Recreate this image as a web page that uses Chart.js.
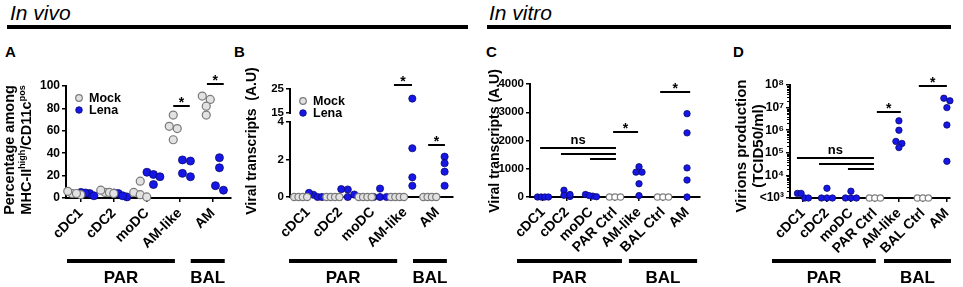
<!DOCTYPE html>
<html>
<head>
<meta charset="utf-8">
<script src="https://cdn.jsdelivr.net/npm/chart.js@4.4.1/dist/chart.umd.min.js"></script>
<style>
  html, body { margin: 0; padding: 0; background: #fff; }
  body { position: relative; width: 963px; height: 287px; overflow: hidden; font-family: "Liberation Sans", Arial, sans-serif; color: #000; }
  canvas { position: absolute; }
  .head { position: absolute; font-style: italic; font-size: 21px; line-height: 24px; }
  .rule { position: absolute; height: 4px; background: #000; }
  .letter { position: absolute; font-weight: bold; font-size: 15px; line-height: 15px; }
</style>
</head>
<body>
<div class="head" style="left:10px;top:1px">In vivo</div>
<div class="rule" style="left:7px;top:25px;width:461px"></div>
<div class="head" style="left:489px;top:1px">In vitro</div>
<div class="rule" style="left:487px;top:25px;width:464px"></div>
<div class="letter" style="left:5px;top:44px">A</div>
<div class="letter" style="left:234px;top:44px">B</div>
<div class="letter" style="left:486px;top:44px">C</div>
<div class="letter" style="left:733px;top:44px">D</div>

<canvas id="panelA" width="238" height="227" style="left:0;top:60px"></canvas>
<canvas id="panelB" width="228" height="227" style="left:232px;top:60px"></canvas>
<canvas id="panelC" width="228" height="227" style="left:480px;top:60px"></canvas>
<canvas id="panelD" width="241" height="227" style="left:722px;top:60px"></canvas>

<script>
// ---- data ----
const catsAB = ['cDC1', 'cDC2', 'moDC', 'AM-like', 'AM'];
const catsCD = ['cDC1', 'cDC2', 'moDC', 'PAR Ctrl', 'AM-like', 'BAL Ctrl', 'AM'];

// A: % among MHC-II high / CD11c pos, one list per cell type
const mockA = [[4, 3, 6, 4], [5, 5, 7, 4], [15, 5, 3, 1], [74, 64, 62, 52], [88, 91, 82, 74]];
const lenaA = [[4, 2, 5, 4.5], [4, 1, 2, 4.5], [23, 12, 21, 19], [34, 33, 19, 22], [36, 27, 7, 11]];
const ticksA = [0, 20, 40, 60, 80, 100];

// B: viral transcripts in vivo (A.U), axis broken between 4 and 15
const mockB = [[0, 0, 0, 0], [0, 0, 0, 0], [0, 0, 0, 0], [0, 0, 0, 0], [0, 0, 0, 0]];
const lenaB = [[0.12, 0, 0, 0.22], [0.4, 0, 0.13, 0.42], [0, 0, 0, 0.45], [21, 2.6, 1.05, 0.6], [2.15, 1.8, 1.35, 0.6]];
const ticksBLow = [0, 2, 4];
const ticksBHigh = [15, 25];

// C: viral transcripts in vitro (A.U)
const transcriptsC = [[0, 0, 0, 0], [240, 20, 60, 90], [90, 30, 10, 50], [0, 0, 0], [1070, 880, 880, 470, 50], [0, 0, 0], [2950, 2270, 1030, 600, 0]];
const ticksC = [0, 1000, 2000, 3000, 4000];

// D: virions production (TCID50/ml), bottom of axis is the detection limit
const virionsD = [[1600, 1000, 1000, 1600], [2700, 1000, 1000, 1000], [2000, 1000, 1000, 1000], [1000, 1000, 1000],
  [2.6e6, 1e6, 3.2e5, 2.6e5, 1.7e5], [1000, 1000, 1000], [2.6e7, 2e7, 1e7, 1.7e6, 4.2e4]];
const ticksD = [1e3, 1e4, 1e5, 1e6, 1e7, 1e8];

// significance marks (category units, value on axis)
const sigA = [{from: 2.8, to: 3.3, y: 82, text: '*'}, {from: 3.82, to: 4.33, y: 101.8, text: '*'}];
const sigB = [{from: 2.66, to: 3.22, y: 26.5, text: '*', axis: 'yHi'}, {from: 3.72, to: 4.24, y: 2.8, text: '*'}];
const sigC = [{from: -0.12, to: 3.04, y: 1727, text: 'ns'}, {from: 0.75, to: 3.04, y: 1525}, {from: 1.96, to: 3.04, y: 1348},
  {from: 2.92, to: 3.96, y: 2316, text: '*'}, {from: 4.88, to: 6.13, y: 3700, text: '*'}];
const sigD = [{from: -0.25, to: 2.96, y: 5.6e4, text: 'ns'}, {from: 0.67, to: 2.96, y: 3.2e4}, {from: 1.875, to: 2.96, y: 2e4},
  {from: 3.08, to: 4.08, y: 6.2e6, text: '*'}, {from: 4.83, to: 6.0, y: 8.9e7, text: '*'}];

// ---- drawing ----
const FONT = '"Liberation Sans", Arial, sans-serif';
const SUP = ['⁰', '¹', '²', '³', '⁴', '⁵', '⁶', '⁷', '⁸', '⁹'];
Chart.defaults.font.family = FONT;
Chart.defaults.font.weight = 'bold';
Chart.defaults.color = '#000';

const mockStyle = {pointBackgroundColor: '#e2e2e2', pointBorderColor: '#7a7a7a', pointBorderWidth: 1.2};
const lenaStyle = {pointBackgroundColor: '#1616e6', pointBorderColor: '#0a0a70', pointBorderWidth: 0.8};
const ctrlStyle = {pointBackgroundColor: '#ffffff', pointBorderColor: '#808080', pointBorderWidth: 1.2};

function columnPoints(groups, shift, keep) {
  const pts = [];
  groups.forEach((vals, i) => {
    vals.forEach(v => { if (!keep || keep(v, i)) pts.push({x: i + shift, y: v}); });
  });
  return pts;
}

function dataset(label, data, style, r, axis) {
  return Object.assign({label, data, pointRadius: r, pointHoverRadius: r, showLine: false, clip: false, yAxisID: axis || 'y'}, style);
}

// spreads points of one column sideways when they sit at about the same height
const swarm = {
  id: 'swarm',
  afterDatasetsUpdate(chart, args, o) {
    chart.data.datasets.forEach((ds, di) => {
      const meta = chart.getDatasetMeta(di);
      const cols = {};
      ds.data.forEach((d, i) => { (cols[d.x] = cols[d.x] || []).push(meta.data[i]); });
      Object.values(cols).forEach(pts => {
        pts.sort((a, b) => a.y - b.y);
        let row = [];
        const flush = () => {
          const step = row.length > 1 ? Math.min(o.gap, o.width / (row.length - 1)) : 0;
          row.forEach((p, k) => { p.x += (k - (row.length - 1) / 2) * step; });
          row = [];
        };
        pts.forEach(p => {
          if (row.length && p.y - row[0].y > o.near) flush();
          row.push(p);
        });
        flush();
      });
    });
  }
};

function drawRotated(ctx, cx, cy, segs, size) {
  ctx.save();
  ctx.translate(cx, cy);
  ctx.rotate(-Math.PI / 2);
  const big = `bold ${size}px ${FONT}`;
  const small = `bold ${Math.round(size * 0.65)}px ${FONT}`;
  let total = 0;
  segs.forEach(s => { ctx.font = s.sup ? small : big; total += ctx.measureText(s.t).width; });
  let x = -total / 2;
  ctx.textAlign = 'left';
  ctx.textBaseline = 'middle';
  ctx.fillStyle = '#000';
  segs.forEach(s => {
    ctx.font = s.sup ? small : big;
    ctx.fillText(s.t, x, s.sup ? -size * 0.33 : 0);
    x += ctx.measureText(s.t).width;
  });
  ctx.restore();
}

const decor = {
  id: 'decor',
  afterDraw(chart, args, o) {
    const ctx = chart.ctx;
    const area = chart.chartArea;
    const xs = chart.scales.x;
    ctx.save();
    ctx.fillStyle = '#000';
    ctx.strokeStyle = '#000';

    (o.titles || []).forEach(t => drawRotated(ctx, t.x, o.titleY, t.segs, o.titleSize));

    if (o.breakAxis) {
      const ys = chart.scales.yHi;
      ctx.lineWidth = 2;
      ctx.beginPath();
      ctx.moveTo(area.left, ys.getPixelForValue(ticksBHigh[0]) + 1);
      ctx.lineTo(area.left, ys.getPixelForValue(ticksBHigh[1]) - 1);
      ctx.stroke();
    }

    if (o.minorLog) {
      const ys = chart.scales.y;
      ctx.lineWidth = 1;
      for (let e = 3; e < 8; e++) {
        for (let k = 2; k < 10; k++) {
          const py = Math.round(ys.getPixelForValue(k * Math.pow(10, e))) + 0.5;
          ctx.beginPath();
          ctx.moveTo(area.left - 3, py);
          ctx.lineTo(area.left, py);
          ctx.stroke();
        }
      }
    }

    if (o.legend) {
      o.legend.forEach((label, i) => {
        const ds = chart.data.datasets.find(d => d.label === label);
        const cx = area.left + 13, cy = area.top + 12 + i * 12;
        ctx.beginPath();
        ctx.arc(cx, cy, 3.3, 0, Math.PI * 2);
        ctx.fillStyle = ds.pointBackgroundColor;
        ctx.fill();
        ctx.lineWidth = ds.pointBorderWidth;
        ctx.strokeStyle = ds.pointBorderColor;
        ctx.stroke();
        ctx.fillStyle = '#000';
        ctx.font = `bold 12.5px ${FONT}`;
        ctx.textAlign = 'left';
        ctx.textBaseline = 'middle';
        ctx.fillText(label, cx + 10, cy + 0.5);
      });
    }

    ctx.strokeStyle = '#000';
    ctx.fillStyle = '#000';
    (o.sig || []).forEach(s => {
      const ys = chart.scales[s.axis || 'y'];
      const y = Math.round(ys.getPixelForValue(s.y));
      const x1 = xs.getPixelForValue(s.from), x2 = xs.getPixelForValue(s.to);
      ctx.lineWidth = 2;
      ctx.beginPath();
      ctx.moveTo(x1, y);
      ctx.lineTo(x2, y);
      ctx.stroke();
      if (s.text) {
        ctx.textAlign = 'center';
        ctx.textBaseline = 'alphabetic';
        if (s.text === '*') {
          ctx.font = `bold 14px ${FONT}`;
          ctx.fillText('*', (x1 + x2) / 2, y + 1);
        } else {
          ctx.font = `bold 13px ${FONT}`;
          ctx.fillText(s.text, (x1 + x2) / 2, y - 4);
        }
      }
    });

    (o.groups || []).forEach(g => {
      const x1 = xs.getPixelForValue(g.from), x2 = xs.getPixelForValue(g.to);
      ctx.fillRect(x1, o.barY - 2, x2 - x1, 4);
      ctx.font = `bold 17px ${FONT}`;
      ctx.textAlign = 'center';
      ctx.textBaseline = 'middle';
      ctx.fillText(g.label, (x1 + x2) / 2, o.barY + 17);
    });
    ctx.restore();
  }
};

function catAxis(cats, min, max, height) {
  return {
    type: 'linear', position: 'bottom', min, max,
    afterBuildTicks: s => { s.ticks = cats.map((c, i) => ({value: i})); },
    afterFit: s => { s.height = height; },
    ticks: {autoSkip: false, minRotation: 45, maxRotation: 45, padding: 3, font: {size: 14, weight: 'bold'},
      callback: v => cats[v]},
    grid: {drawOnChartArea: false, drawTicks: true, tickLength: 4, color: '#000', lineWidth: 1.5},
    border: {display: true, color: '#000', width: 2}
  };
}

function valAxis(width, list, size, extra) {
  return Object.assign({
    type: 'linear', position: 'left',
    afterBuildTicks: s => { s.ticks = list.map(v => ({value: v})); },
    afterFit: s => { s.width = width; },
    ticks: {autoSkip: false, padding: 2, font: {size, weight: 'bold'}, callback: v => String(v)},
    grid: {drawOnChartArea: false, drawTicks: true, tickLength: 4, color: '#000', lineWidth: 1.5},
    border: {display: true, color: '#000', width: 2}
  }, extra);
}

function makeChart(id, cfg) {
  return new Chart(document.getElementById(id), {
    type: 'scatter',
    data: {datasets: cfg.datasets},
    options: {
      responsive: false,
      animation: false,
      events: [],
      layout: {padding: {top: cfg.padTop, right: cfg.padRight, left: 0, bottom: 0}},
      plugins: {legend: {display: false}, tooltip: {enabled: false}, swarm: cfg.swarm, decor: cfg.decor},
      scales: cfg.scales
    },
    plugins: [swarm, decor]
  });
}

const isCtrl = i => catsCD[i].includes('Ctrl');

// A
makeChart('panelA', {
  datasets: [
    dataset('Mock', columnPoints(mockA, -0.2), mockStyle, 4),
    dataset('Lena', columnPoints(lenaA, 0.2), lenaStyle, 4)
  ],
  padTop: 26, padRight: 7,
  swarm: {gap: 8, width: 13, near: 6},
  scales: {
    x: catAxis(catsAB, -0.45, 4.55, 89),
    y: valAxis(66, ticksA, 12, {min: 0, max: 100})
  },
  decor: {
    titles: [
      {x: 10, segs: [{t: 'Percentage among'}]},
      {x: 27, segs: [{t: 'MHC-II'}, {t: 'high', sup: true}, {t: '/CD11c'}, {t: 'pos', sup: true}]}
    ],
    titleY: 90, titleSize: 14.5,
    legend: ['Mock', 'Lena'],
    sig: sigA,
    groups: [{label: 'PAR', from: -0.42, to: 2.85}, {label: 'BAL', from: 3.33, to: 4.36}],
    barY: 201
  }
});

// B
makeChart('panelB', {
  datasets: [
    dataset('Mock', columnPoints(mockB, -0.23), mockStyle, 3.6),
    dataset('Lena', columnPoints(lenaB, 0.23, v => v <= 4), lenaStyle, 3.6),
    dataset('Lena high', columnPoints(lenaB, 0.23, v => v > 4), lenaStyle, 3.6, 'yHi')
  ],
  padTop: 29, padRight: 7,
  swarm: {gap: 7, width: 13, near: 6},
  scales: {
    x: catAxis(catsAB, -0.56, 4.49, 90),
    y: valAxis(58, ticksBLow, 11.5, {min: 0, max: 4, stack: 'b', stackWeight: 75}),
    yHi: valAxis(58, ticksBHigh, 11.5, {min: 11.25, max: 25, stack: 'b', stackWeight: 33, border: {display: false}})
  },
  decor: {
    titles: [{x: 20, segs: [{t: 'Viral transcripts  (A.U)'}]}],
    titleY: 81, titleSize: 14,
    legend: ['Mock', 'Lena'],
    breakAxis: true,
    sig: sigB,
    groups: [{label: 'PAR', from: -0.59, to: 2.76}, {label: 'BAL', from: 3.25, to: 4.3}],
    barY: 201
  }
});

// C
makeChart('panelC', {
  datasets: [
    dataset('Infected', columnPoints(transcriptsC, 0, (v, i) => !isCtrl(i)), lenaStyle, 3.2),
    dataset('Control', columnPoints(transcriptsC, 0, (v, i) => isCtrl(i)), ctrlStyle, 3.2)
  ],
  padTop: 24, padRight: 8,
  swarm: {gap: 6, width: 11, near: 5},
  scales: {
    x: catAxis(catsCD, -0.54, 6.54, 90),
    y: valAxis(50, ticksC, 11.5, {min: 0, max: 4000})
  },
  decor: {
    titles: [{x: 15, segs: [{t: 'Viral transcripts (A.U)'}]}],
    titleY: 81, titleSize: 14,
    sig: sigC,
    groups: [{label: 'PAR', from: -1.08, to: 3.29}, {label: 'BAL', from: 3.58, to: 6.42}],
    barY: 201
  }
});

// D
makeChart('panelD', {
  datasets: [
    dataset('Infected', columnPoints(virionsD, 0, (v, i) => !isCtrl(i)), lenaStyle, 3.2),
    dataset('Control', columnPoints(virionsD, 0, (v, i) => isCtrl(i)), ctrlStyle, 3.2)
  ],
  padTop: 25, padRight: 13,
  swarm: {gap: 6, width: 11, near: 5},
  scales: {
    x: catAxis(catsCD, -0.54, 6.13, 89),
    y: valAxis(68, ticksD, 12, {
      type: 'logarithmic', min: 1e3, max: 1e8,
      ticks: {autoSkip: false, padding: 2, font: {size: 12, weight: 'bold'},
        callback: v => {
          const e = Math.round(Math.log10(v));
          return (v === 1e3 ? '<10' : '10') + SUP[e];
        }}
    })
  },
  decor: {
    titles: [{x: 20, segs: [{t: 'Virions production'}]}, {x: 37, segs: [{t: '(TCID50/ml)'}]}],
    titleY: 86, titleSize: 15,
    minorLog: true,
    sig: sigD,
    groups: [{label: 'PAR', from: -1.29, to: 3.04}, {label: 'BAL', from: 3.38, to: 6.17}],
    barY: 201
  }
});
</script>
</body>
</html>
